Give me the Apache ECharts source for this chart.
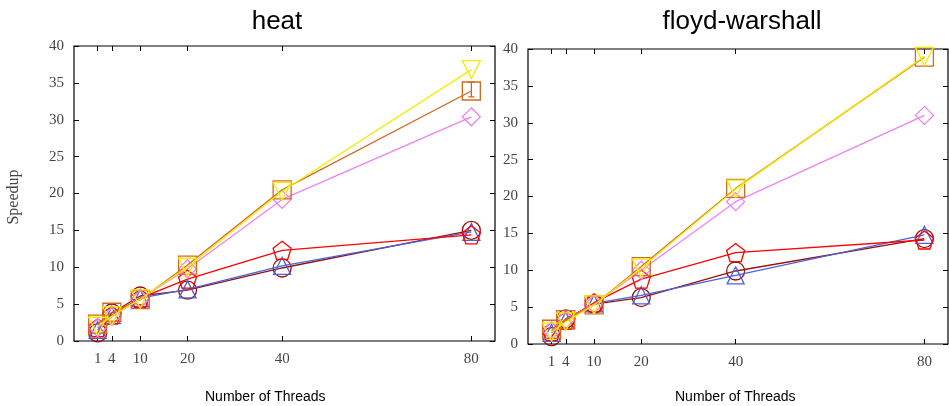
<!DOCTYPE html>
<html>
<head>
<meta charset="utf-8">
<script src="https://cdn.jsdelivr.net/npm/echarts@6/dist/echarts.min.js"></script>
<style>
  html, body { margin: 0; padding: 0; background: #fff; }
  #chart { width: 949px; height: 406px; }
</style>
</head>
<body>
<div id="chart"></div>
<script>
// thread counts on the x axis
var threads = [1, 4, 10, 20, 40, 80];

// heat speedups
var heatDarkRed = [1.1, 3.8, 6.1, 6.9, 9.9, 15.0];
var heatBlue    = [1.5, 3.5, 5.8, 7.0, 10.2, 14.8];
var heatRed     = [1.8, 3.5, 5.8, 8.4, 12.3, 14.4];
var heatViolet  = [1.8, 3.3, 5.7, 9.8, 19.2, 30.4];
var heatOrange  = [2.3, 3.9, 5.6, 10.3, 20.5, 33.9];
var heatYellow  = [2.0, 3.4, 5.7, 10.0, 20.3, 36.8];

// floyd-warshall speedups
var floydDarkRed = [1.0, 3.4, 5.4, 6.3, 9.9, 14.3];
var floydBlue    = [1.5, 3.2, 5.5, 6.6, 9.3, 14.8];
var floydRed     = [1.7, 3.2, 5.6, 8.8, 12.4, 14.1];
var floydViolet  = [1.8, 3.3, 5.4, 10.0, 19.3, 31.0];
var floydOrange  = [2.0, 3.3, 5.3, 10.5, 21.1, 38.9];
var floydYellow  = [1.6, 3.0, 5.3, 10.3, 21.0, 39.0];

// the one visible error bar (heat, orange, 80 threads)
var heatOrangeErr = [[80, 33.1, 35.1]];

var pentagon = 'path://M0,-1 L0.951,-0.309 L0.588,0.809 L-0.588,0.809 L-0.951,-0.309 Z';
var invTriangle = 'path://M-1,-0.85 L1,-0.85 L0,0.9 Z';

// colour + marker for each line, drawn in this order
var styles = [
    {color: '#990f0f', symbol: 'circle', size: 18},
    {color: '#4a64d8', symbol: 'triangle', size: 17},
    {color: '#ff0000', symbol: pentagon, size: 18},
    {color: '#ee82ee', symbol: 'diamond', size: 18},
    {color: '#d2691e', symbol: 'rect', size: 18},
    {color: '#f5ea00', symbol: invTriangle, size: 18}
];

var heatData = [heatDarkRed, heatBlue, heatRed, heatViolet, heatOrange, heatYellow];
var floydData = [floydDarkRed, floydBlue, floydRed, floydViolet, floydOrange, floydYellow];

var serif = '"Liberation Serif", "DejaVu Serif", serif';
var sans = '"Liberation Sans", Arial, sans-serif';

function pairs(values){
    return threads.map(function(t, i){ return [t, values[i]]; });
}

function makeSeries(list, xi, yi){
    return list.map(function(values, i){
        var s = styles[i];
        return {
            type: 'line',
            xAxisIndex: xi,
            yAxisIndex: yi,
            data: pairs(values),
            symbol: s.symbol,
            symbolSize: s.size,
            showSymbol: true,
            lineStyle: {color: s.color, width: 1.3},
            itemStyle: {color: 'transparent', borderColor: s.color, borderWidth: 1.3},
            z: 2 + i
        };
    });
}

function errorBar(data, xi, yi, color){
    return {
        type: 'custom',
        xAxisIndex: xi,
        yAxisIndex: yi,
        data: data,
        z: 10,
        renderItem: function(params, api){
            var lo = api.coord([api.value(0), api.value(1)]);
            var hi = api.coord([api.value(0), api.value(2)]);
            var w = 3;
            var st = {stroke: color, lineWidth: 1.3};
            return {type: 'group', children: [
                {type: 'line', shape: {x1: lo[0], y1: lo[1], x2: hi[0], y2: hi[1]}, style: st},
                {type: 'line', shape: {x1: lo[0] - w, y1: lo[1], x2: lo[0] + w, y2: lo[1]}, style: st},
                {type: 'line', shape: {x1: hi[0] - w, y1: hi[1], x2: hi[0] + w, y2: hi[1]}, style: st}
            ]};
        }
    };
}

function xAxes(grid){
    var base = {
        type: 'value', gridIndex: grid, min: -4, max: 85,
        splitLine: {show: false},
        axisLine: {show: false, onZero: false},
        axisTick: {show: true, inside: true, length: 5, customValues: threads, lineStyle: {color: '#000'}}
    };
    var bottom = Object.assign({}, base, {
        position: 'bottom',
        axisLabel: {customValues: threads, fontFamily: serif, fontSize: 15, color: '#444', margin: 11}
    });
    var top = Object.assign({}, base, {position: 'top', axisLabel: {show: false}});
    return [bottom, top];
}

function yAxes(grid){
    var base = {
        type: 'value', gridIndex: grid, min: 0, max: 40, interval: 5,
        splitLine: {show: false},
        axisLine: {show: false, onZero: false},
        axisTick: {show: true, inside: true, length: 5, lineStyle: {color: '#000'}}
    };
    var left = Object.assign({}, base, {
        position: 'left',
        axisLabel: {fontFamily: serif, fontSize: 15, color: '#444', margin: 10}
    });
    var right = Object.assign({}, base, {position: 'right', axisLabel: {show: false}});
    return [left, right];
}

var chart = echarts.init(document.getElementById('chart'));

var option = {
    animation: false,
    backgroundColor: '#fff',
    title: [
        {text: 'heat', left: 272, top: 4, textAlign: 'center',
            textStyle: {fontFamily: sans, fontSize: 26, fontWeight: 'normal', color: '#000'}},
        {text: 'floyd-warshall', left: 737, top: 4, textAlign: 'center',
            textStyle: {fontFamily: sans, fontSize: 26, fontWeight: 'normal', color: '#000'}}
    ],
    grid: [
        {left: 74, top: 46, width: 421, height: 295, show: true, borderColor: '#000', borderWidth: 1.2},
        {left: 528, top: 49, width: 420, height: 295, show: true, borderColor: '#000', borderWidth: 1.2}
    ],
    xAxis: xAxes(0).concat(xAxes(1)),
    yAxis: yAxes(0).concat(yAxes(1)),
    series: makeSeries(heatData, 0, 0)
        .concat(makeSeries(floydData, 2, 2))
        .concat([errorBar(heatOrangeErr, 0, 0, styles[4].color)]),
    graphic: [
        {type: 'text', left: 205, top: 390,
            style: {text: 'Number of Threads', font: '14px ' + sans, fill: '#000'}},
        {type: 'text', left: 675, top: 390,
            style: {text: 'Number of Threads', font: '14px ' + sans, fill: '#000'}},
        {type: 'text', x: 14, y: 197, rotation: Math.PI / 2,
            style: {text: 'Speedup', font: '16px ' + serif, fill: '#444', align: 'center', verticalAlign: 'middle'}}
    ]
};

chart.setOption(option);
</script>
</body>
</html>
